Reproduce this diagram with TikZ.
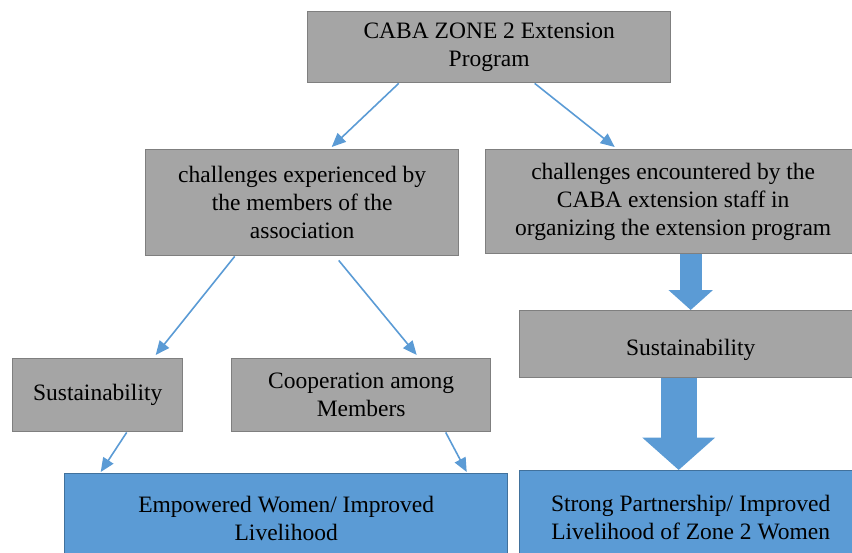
\documentclass[tikz,border=0pt]{standalone}
\usepackage{fontspec}
\setmainfont{Liberation Serif}
\usetikzlibrary{arrows.meta}

\definecolor{boxgray}{HTML}{A5A5A5}
\definecolor{linegray}{HTML}{7F7F7F}
\definecolor{boxblue}{HTML}{5B9BD5}
\definecolor{lineblue}{HTML}{41719C}

\begin{document}
\begin{tikzpicture}[x=1pt,y=-1pt,
	graybox/.style={draw=linegray,fill=boxgray,line width=1.4pt,anchor=north west,
		inner sep=0pt,align=center,font=\fontsize{23.5}{28}\selectfont},
	bluebox/.style={graybox,draw=lineblue,fill=boxblue},
	thinarrow/.style={draw=boxblue,line width=1.6pt,-{Triangle[width=12pt,length=14pt]}},
	fatarrow/.style={draw=boxblue,line width=#1,-{Triangle[width=2*#1-1pt,length=0.9*#1]}}]
			\useasboundingbox (0,0) rectangle (852,553);
			\node[graybox,minimum width=363pt,minimum height=71pt] (prog) at (307,11)
			{CABA ZONE 2 Extension\\Program};
			\node[graybox,minimum width=313pt,minimum height=106pt] (members) at (145,149)
			{challenges experienced by\\the members of the\\association};
			\node[graybox,minimum width=375pt,minimum height=104pt] (staff) at (485,149)
			{challenges encountered by the\\CABA extension staff in\\organizing the extension program};
			\node[graybox,minimum width=170pt,minimum height=73pt] (sus1) at (12,358)
			{Sustainability};
			\node[graybox,minimum width=259pt,minimum height=73pt] (coop) at (231,358)
			{Cooperation among\\Members};
			\node[graybox,minimum width=342pt,minimum height=67pt,text height=27pt] (sus2) at (519,310)
			{Sustainability};
			\node[bluebox,minimum width=443pt,minimum height=90pt] (empower) at (64,473)
			{Empowered Women/ Improved\\Livelihood};
			\node[bluebox,minimum width=342pt,minimum height=93pt] (partner) at (519,470)
			{Strong Partnership/ Improved\\Livelihood of Zone 2 Women};
			\draw[thinarrow] ([xshift=-90.5pt]prog.south) -- ([xshift=29.5pt,yshift=2pt]members.north);
			\draw[thinarrow] ([xshift=45.5pt]prog.south) -- ([xshift=-58.5pt,yshift=2pt]staff.north);
			\draw[thinarrow] ([xshift=-67.5pt]members.south) -- ([xshift=58pt,yshift=3pt]sus1.north);
			\draw[thinarrow] ([xshift=36.5pt,yshift=-4pt]members.south) -- ([xshift=55.5pt,yshift=3pt]coop.north);
			\draw[thinarrow] ([xshift=29pt]sus1.south) -- ([xshift=-185.5pt,yshift=1pt]empower.north);
			\draw[thinarrow] ([xshift=84.5pt]coop.south) -- ([xshift=180.5pt,yshift=1pt]empower.north);
			\draw[fatarrow=22pt] (staff.south -| sus2.north) -- (sus2.north);
			\draw[fatarrow=36pt] ([xshift=-12pt]sus2.south) -- ([xshift=-12pt]sus2.south |- partner.north);
\end{tikzpicture}
\end{document}
